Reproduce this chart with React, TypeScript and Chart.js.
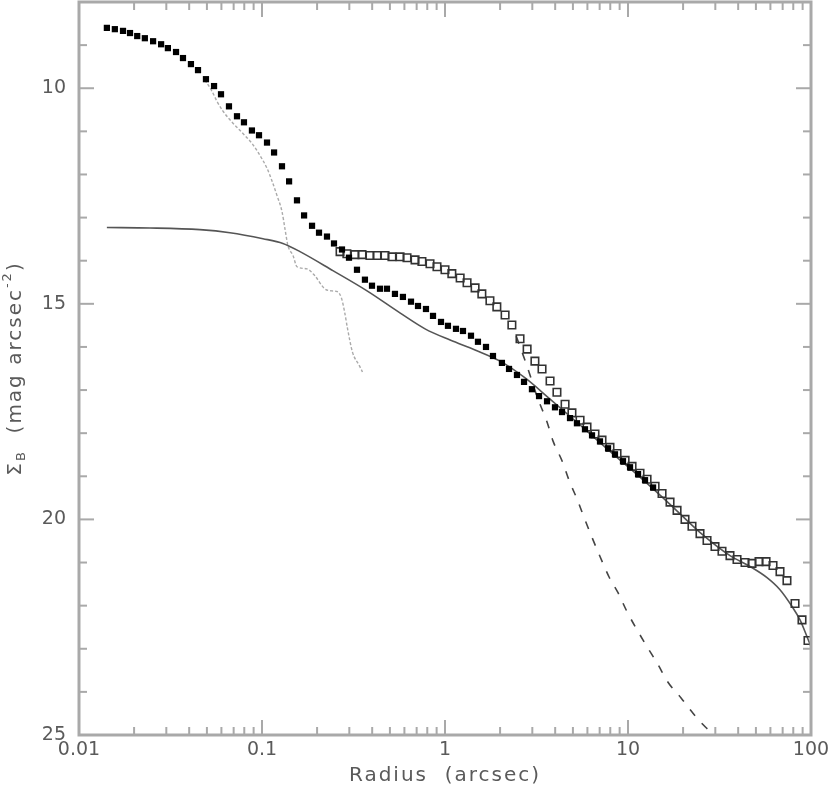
import React, { useEffect, useRef } from "react";
import { Chart, registerables } from "chart.js";

Chart.register(...registerables);

// ---- data (radius in arcsec, surface brightness in mag arcsec^-2) ----
const filledR = [0.0142, 0.0157, 0.0174, 0.019, 0.0208, 0.0229, 0.0254, 0.0281, 0.0306, 0.0339, 0.037, 0.0409, 0.0447, 0.0494, 0.0547, 0.0597, 0.066, 0.073, 0.0797, 0.0881, 0.0963, 0.1065, 0.1164, 0.1286, 0.1406, 0.1553, 0.1698, 0.1877, 0.2049, 0.2265, 0.2474, 0.2736, 0.2988, 0.3304, 0.3652, 0.3991, 0.4413, 0.4819, 0.5328, 0.589, 0.652, 0.712, 0.787, 0.86, 0.951, 1.038, 1.148, 1.254, 1.387, 1.514, 1.675, 1.829, 2.047, 2.238, 2.473, 2.703, 2.986, 3.265, 3.61, 3.99, 4.36, 4.82, 5.26, 5.82, 6.36, 7.03, 7.78, 8.49, 9.39, 10.26, 11.35, 12.39, 13.71];
const filledMu = [8.6, 8.63, 8.67, 8.72, 8.79, 8.84, 8.91, 8.98, 9.07, 9.16, 9.3, 9.44, 9.58, 9.79, 9.95, 10.14, 10.42, 10.65, 10.79, 10.98, 11.09, 11.26, 11.49, 11.81, 12.16, 12.6, 12.95, 13.19, 13.35, 13.44, 13.6, 13.74, 13.93, 14.21, 14.44, 14.58, 14.65, 14.65, 14.77, 14.84, 14.95, 15.05, 15.12, 15.28, 15.42, 15.51, 15.58, 15.63, 15.74, 15.88, 16.0, 16.21, 16.37, 16.51, 16.65, 16.81, 16.98, 17.14, 17.26, 17.4, 17.51, 17.65, 17.77, 17.91, 18.05, 18.19, 18.35, 18.49, 18.65, 18.79, 18.95, 19.09, 19.26];

const openR = [0.267, 0.291, 0.322, 0.352, 0.389, 0.425, 0.47, 0.513, 0.568, 0.62, 0.686, 0.748, 0.828, 0.904, 1.0, 1.09, 1.21, 1.32, 1.46, 1.59, 1.76, 1.92, 2.13, 2.32, 2.57, 2.81, 3.1, 3.39, 3.75, 4.09, 4.53, 4.94, 5.47, 5.97, 6.6, 7.21, 7.97, 8.71, 9.64, 10.52, 11.63, 12.71, 14.06, 15.35, 16.97, 18.54, 20.49, 22.37, 24.74, 27.03, 29.88, 32.63, 36.08, 39.42, 43.6, 47.6, 52.0, 56.8, 62.0, 67.7, 73.9, 81.8, 89.3, 96.3];
const openMu = [13.79, 13.84, 13.86, 13.86, 13.88, 13.88, 13.88, 13.91, 13.91, 13.93, 13.98, 14.02, 14.07, 14.14, 14.21, 14.3, 14.4, 14.51, 14.63, 14.77, 14.93, 15.07, 15.26, 15.49, 15.81, 16.05, 16.33, 16.51, 16.79, 17.05, 17.33, 17.53, 17.7, 17.86, 18.02, 18.16, 18.33, 18.47, 18.63, 18.77, 18.93, 19.07, 19.23, 19.4, 19.6, 19.79, 20.0, 20.16, 20.33, 20.49, 20.63, 20.74, 20.84, 20.93, 21.0, 21.02, 20.98, 20.98, 21.07, 21.21, 21.42, 21.95, 22.33, 22.81];

const modelR = [0.0142, 0.0244, 0.0458, 0.0668, 0.1012, 0.1301, 0.1613, 0.244, 0.375, 0.567, 0.778, 1.067, 1.46, 2.0, 2.74, 3.75, 5.47, 7.97, 11.63, 16.97, 24.7, 36.1, 46.4, 57.5, 67.7, 78.8, 87.1, 95.1, 100];
const modelMu = [13.23, 13.24, 13.28, 13.35, 13.49, 13.6, 13.79, 14.23, 14.7, 15.21, 15.58, 15.84, 16.07, 16.33, 16.72, 17.21, 17.81, 18.42, 19.02, 19.65, 20.3, 20.84, 21.09, 21.35, 21.63, 22.02, 22.33, 22.72, 22.95];

const nucR = [0.0488, 0.0533, 0.0567, 0.0612, 0.0694, 0.0787, 0.0882, 0.0975, 0.1066, 0.1136, 0.1208, 0.1286, 0.1335, 0.1386, 0.1477, 0.1553, 0.1761, 0.1944, 0.22, 0.2404, 0.2588, 0.2724, 0.2828, 0.2935, 0.3122, 0.341, 0.3539];
const nucMu = [9.81, 10.07, 10.3, 10.53, 10.81, 11.05, 11.28, 11.56, 11.86, 12.16, 12.49, 12.86, 13.26, 13.65, 13.88, 14.14, 14.19, 14.35, 14.65, 14.7, 14.72, 14.88, 15.19, 15.58, 16.12, 16.44, 16.58];

const bulgeR = [2.45, 2.81, 3.19, 3.61, 3.9, 4.37, 4.79, 5.27, 5.81, 6.36, 7.03, 7.87, 8.82, 9.88, 11.2, 12.7, 14.6, 16.5, 19.5, 22.6, 26.4, 28.8];
const bulgeMu = [15.75, 16.45, 17.16, 17.74, 18.19, 18.65, 19.12, 19.53, 20.0, 20.42, 20.86, 21.33, 21.7, 22.14, 22.56, 22.95, 23.37, 23.77, 24.14, 24.49, 24.81, 24.95];

// ---- axes ----
const xTickLabels = [0.01, 0.1, 1, 10, 100];
const xMinorTicks = [
  0.02, 0.03, 0.04, 0.05, 0.06, 0.07, 0.08, 0.09,
  0.2, 0.3, 0.4, 0.5, 0.6, 0.7, 0.8, 0.9,
  2, 3, 4, 5, 6, 7, 8, 9,
  20, 30, 40, 50, 60, 70, 80, 90,
];
const yTickLabels = [10, 15, 20, 25];
const yMinorTicks = [8, 9, 11, 12, 13, 14, 16, 17, 18, 19, 21, 22, 23, 24];
const xTitle = "Radius  (arcsec)";
const yTitleParts = [
  { text: "Σ", size: 20, dy: 0 },
  { text: "B", size: 13, dy: 6 },
  { text: "  (mag arcsec", size: 20, dy: 0 },
  { text: "-2", size: 13, dy: -8 },
  { text: ")", size: 20, dy: 0 },
];

const pts = (xs: number[], ys: number[]) => xs.map((x, i) => ({ x, y: ys[i] }));

const FONT = '"DejaVu Sans", sans-serif';
const AXIS_COLOR = "#a9a9a9";
const TEXT_COLOR = "#5a5a5a";

const framePlugin = {
  id: "frame",
  afterDraw(chart: any) {
    const { ctx, chartArea } = chart;
    const { left, right, top, bottom } = chartArea;
    const xs = chart.scales.x;
    const ys = chart.scales.y;
    ctx.save();
    ctx.strokeStyle = AXIS_COLOR;
    ctx.lineWidth = 2;
    const line = (x1: number, y1: number, x2: number, y2: number) => {
      ctx.beginPath();
      ctx.moveTo(x1, y1);
      ctx.lineTo(x2, y2);
      ctx.stroke();
    };
    const MAJ = 15;
    const MIN = 8;
    xTickLabels.forEach((v) => {
      const p = xs.getPixelForValue(v);
      line(p, bottom, p, bottom - MAJ);
      line(p, top, p, top + MAJ);
    });
    xMinorTicks.forEach((v) => {
      const p = xs.getPixelForValue(v);
      line(p, bottom, p, bottom - MIN);
      line(p, top, p, top + MIN);
    });
    yTickLabels.forEach((v) => {
      const p = ys.getPixelForValue(v);
      line(left, p, left + MAJ, p);
      line(right, p, right - MAJ, p);
    });
    yMinorTicks.forEach((v) => {
      const p = ys.getPixelForValue(v);
      line(left, p, left + MIN, p);
      line(right, p, right - MIN, p);
    });
    ctx.lineWidth = 3;
    ctx.strokeRect(left, top, right - left, bottom - top);

    // titles
    ctx.fillStyle = TEXT_COLOR;
    (ctx as any).letterSpacing = "2px";
    ctx.textBaseline = "middle";
    ctx.textAlign = "center";
    ctx.font = `20px ${FONT}`;
    ctx.fillText(xTitle, (left + right) / 2, 776);

    ctx.translate(16, (top + bottom) / 2);
    ctx.rotate(-Math.PI / 2);
    ctx.textAlign = "left";
    let total = 0;
    const widths = yTitleParts.map((p) => {
      ctx.font = `${p.size}px ${FONT}`;
      const w = ctx.measureText(p.text).width;
      total += w;
      return w;
    });
    let x = -total / 2;
    yTitleParts.forEach((p, i) => {
      ctx.font = `${p.size}px ${FONT}`;
      ctx.fillText(p.text, x, p.dy);
      x += widths[i];
    });
    ctx.restore();
  },
};

export default function App() {
  const ref = useRef<HTMLCanvasElement>(null);
  useEffect(() => {
    if (!ref.current) return;
    const chart = new Chart(ref.current, {
      type: "scatter",
      data: {
        datasets: [
          {
            label: "filled",
            data: pts(filledR, filledMu),
            pointStyle: "rect",
            pointRadius: 4.4,
            backgroundColor: "#000",
            borderColor: "#000",
            borderWidth: 0,
            showLine: false,
          },
          {
            label: "open",
            data: pts(openR, openMu),
            pointStyle: "rect",
            pointRadius: 5.3,
            backgroundColor: "rgba(0,0,0,0)",
            borderColor: "#333",
            borderWidth: 1.6,
            showLine: false,
          },
          {
            label: "model",
            data: pts(modelR, modelMu),
            showLine: true,
            pointRadius: 0,
            borderColor: "#555",
            borderWidth: 1.6,
            cubicInterpolationMode: "monotone",
          },
          {
            label: "nucleus",
            data: pts(nucR, nucMu),
            showLine: true,
            pointRadius: 0,
            borderColor: "#aaa",
            borderWidth: 1.4,
            borderDash: [3, 2],
            cubicInterpolationMode: "monotone",
          },
          {
            label: "bulge",
            data: pts(bulgeR, bulgeMu),
            showLine: true,
            pointRadius: 0,
            borderColor: "#444",
            borderWidth: 1.6,
            borderDash: [8, 10],
            cubicInterpolationMode: "monotone",
          },
        ] as any,
      },
      options: {
        responsive: false,
        animation: false,
        devicePixelRatio: 1,
        layout: { autoPadding: false, padding: { top: 2, right: 19, left: 0, bottom: 0 } },
        plugins: { legend: { display: false }, tooltip: { enabled: false } },
        elements: { point: { hoverRadius: 0 } },
        scales: {
          x: {
            type: "logarithmic",
            min: 0.01,
            max: 100,
            grid: { display: false, drawTicks: false },
            border: { display: false },
            afterBuildTicks: (s: any) => {
              s.ticks = xTickLabels.map((v) => ({ value: v }));
            },
            afterFit: (s: any) => {
              s.height = 65;
              s.paddingLeft = 0;
              s.paddingRight = 0;
            },
            ticks: {
              autoSkip: false,
              maxRotation: 0,
              padding: 4,
              color: TEXT_COLOR,
              font: { family: FONT, size: 19 },
              callback: (v: any) => String(v),
            },
          },
          y: {
            type: "linear",
            reverse: true,
            min: 8,
            max: 25,
            grid: { display: false, drawTicks: false },
            border: { display: false },
            afterBuildTicks: (s: any) => {
              s.ticks = yTickLabels.map((v) => ({ value: v }));
            },
            afterFit: (s: any) => {
              s.width = 79;
              s.paddingTop = 0;
              s.paddingBottom = 0;
            },
            ticks: {
              padding: 13,
              color: TEXT_COLOR,
              font: { family: FONT, size: 19 },
              callback: (v: any) => String(v),
            },
          },
        },
      } as any,
      plugins: [framePlugin],
    });
    return () => chart.destroy();
  }, []);
  return (
    <div style={{ position: "absolute", left: 0, top: 0, width: 830, height: 800, background: "#fff" }}>
      <canvas ref={ref} width={830} height={800} style={{ display: "block", width: 830, height: 800 }} />
    </div>
  );
}
